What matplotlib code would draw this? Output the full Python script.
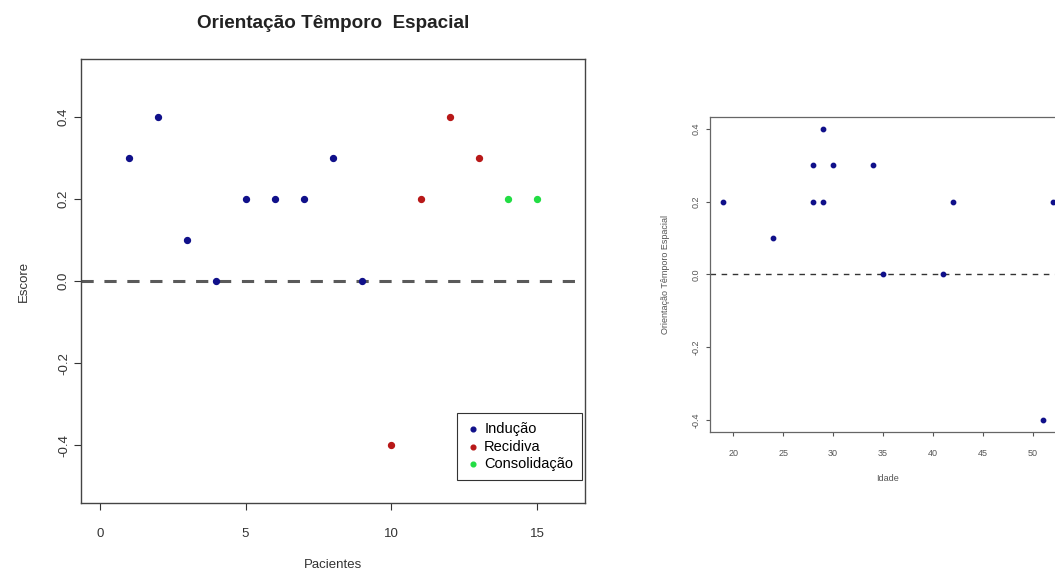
import matplotlib
matplotlib.use("Agg")
import matplotlib.pyplot as plt

plt.rcParams['font.family'] = ['Liberation Sans', 'DejaVu Sans']

# left panel: score per patient
pacientes = [1, 2, 3, 4, 5, 6, 7, 8, 9, 10, 11, 12, 13, 14, 15]
escore = [0.3, 0.4, 0.1, 0.0, 0.2, 0.2, 0.2, 0.3, 0.0, -0.4, 0.2, 0.4, 0.3, 0.2, 0.2]
fase = ['Indução'] * 9 + ['Recidiva'] * 4 + ['Consolidação'] * 2
fases = ['Indução', 'Recidiva', 'Consolidação']
cores = {'Indução': '#10108a', 'Recidiva': '#b81818', 'Consolidação': '#22dd44'}

# right panel: score by age
idade = [19, 24, 28, 28, 29, 29, 30, 34, 35, 41, 42, 51, 52]
orientacao = [0.2, 0.1, 0.3, 0.2, 0.4, 0.2, 0.3, 0.3, 0.0, 0.0, 0.2, -0.4, 0.2]

fig = plt.figure(figsize=(10.55, 5.77), dpi=100)

# left plot
ax1 = fig.add_axes([0.0768, 0.1282, 0.4777, 0.7695])
for f in fases:
    xs = [p for p, ff in zip(pacientes, fase) if ff == f]
    ys = [e for e, ff in zip(escore, fase) if ff == f]
    ax1.scatter(xs, ys, s=18, color=cores[f], label=f, zorder=3)
ax1.axhline(0, color='#5a5a5a', lw=2.2, ls=(0, (4, 3.5)), zorder=2)
ax1.set_xlim(-0.64, 16.64)
ax1.set_ylim(-0.54, 0.54)
ax1.set_xticks([0, 5, 10, 15])
ax1.set_yticks([-0.4, -0.2, 0.0, 0.2, 0.4])
ax1.set_yticklabels(['-0.4', '-0.2', '0.0', '0.2', '0.4'], rotation=90, va='center')
ax1.tick_params(labelsize=9.5, colors='#333333', length=5)
ax1.tick_params(axis='y', pad=3)
ax1.tick_params(axis='x', pad=13)
ax1.set_xlabel('Pacientes', fontsize=9.5, color='#333333', labelpad=14)
ax1.set_ylabel('Escore', fontsize=9.5, color='#333333', labelpad=20)
ax1.set_title('Orientação Têmporo  Espacial', fontsize=13.6, fontweight='bold',
              color='#222222', pad=22)
for s in ax1.spines.values():
    s.set_color('#444444')
    s.set_linewidth(1)
leg = ax1.legend(loc='lower right', bbox_to_anchor=(0.994, 0.052), fancybox=False,
                 edgecolor='#333333', framealpha=1, fontsize=10.5, handletextpad=0.3,
                 borderaxespad=0, labelspacing=0.25, markerscale=0.8, handlelength=1.0,
                 borderpad=0.6)
leg.get_frame().set_linewidth(0.8)

# right plot
ax2 = fig.add_axes([0.673, 0.2513, 0.3374, 0.546])
ax2.scatter(idade, orientacao, s=10, color='#10108a', zorder=3)
ax2.axhline(0, color='#333333', lw=1, ls=(0, (4, 4)), zorder=2)
ax2.set_xlim(17.68, 53.32)
ax2.set_ylim(-0.433, 0.433)
ax2.set_xticks([20, 25, 30, 35, 40, 45, 50])
ax2.set_yticks([-0.4, -0.2, 0.0, 0.2, 0.4])
ax2.set_yticklabels(['-0.4', '-0.2', '0.0', '0.2', '0.4'], rotation=90, va='center')
ax2.tick_params(labelsize=6.5, colors='#555555', length=3, pad=4)
ax2.tick_params(axis='x', pad=9)
ax2.set_xlabel('Idade', fontsize=6.5, color='#555555', labelpad=12)
ax2.set_ylabel('Orientação Têmporo Espacial', fontsize=6.5, color='#555555', labelpad=15)
for s in ax2.spines.values():
    s.set_color('#666666')
    s.set_linewidth(0.9)

plt.savefig('out.png', dpi=100)
